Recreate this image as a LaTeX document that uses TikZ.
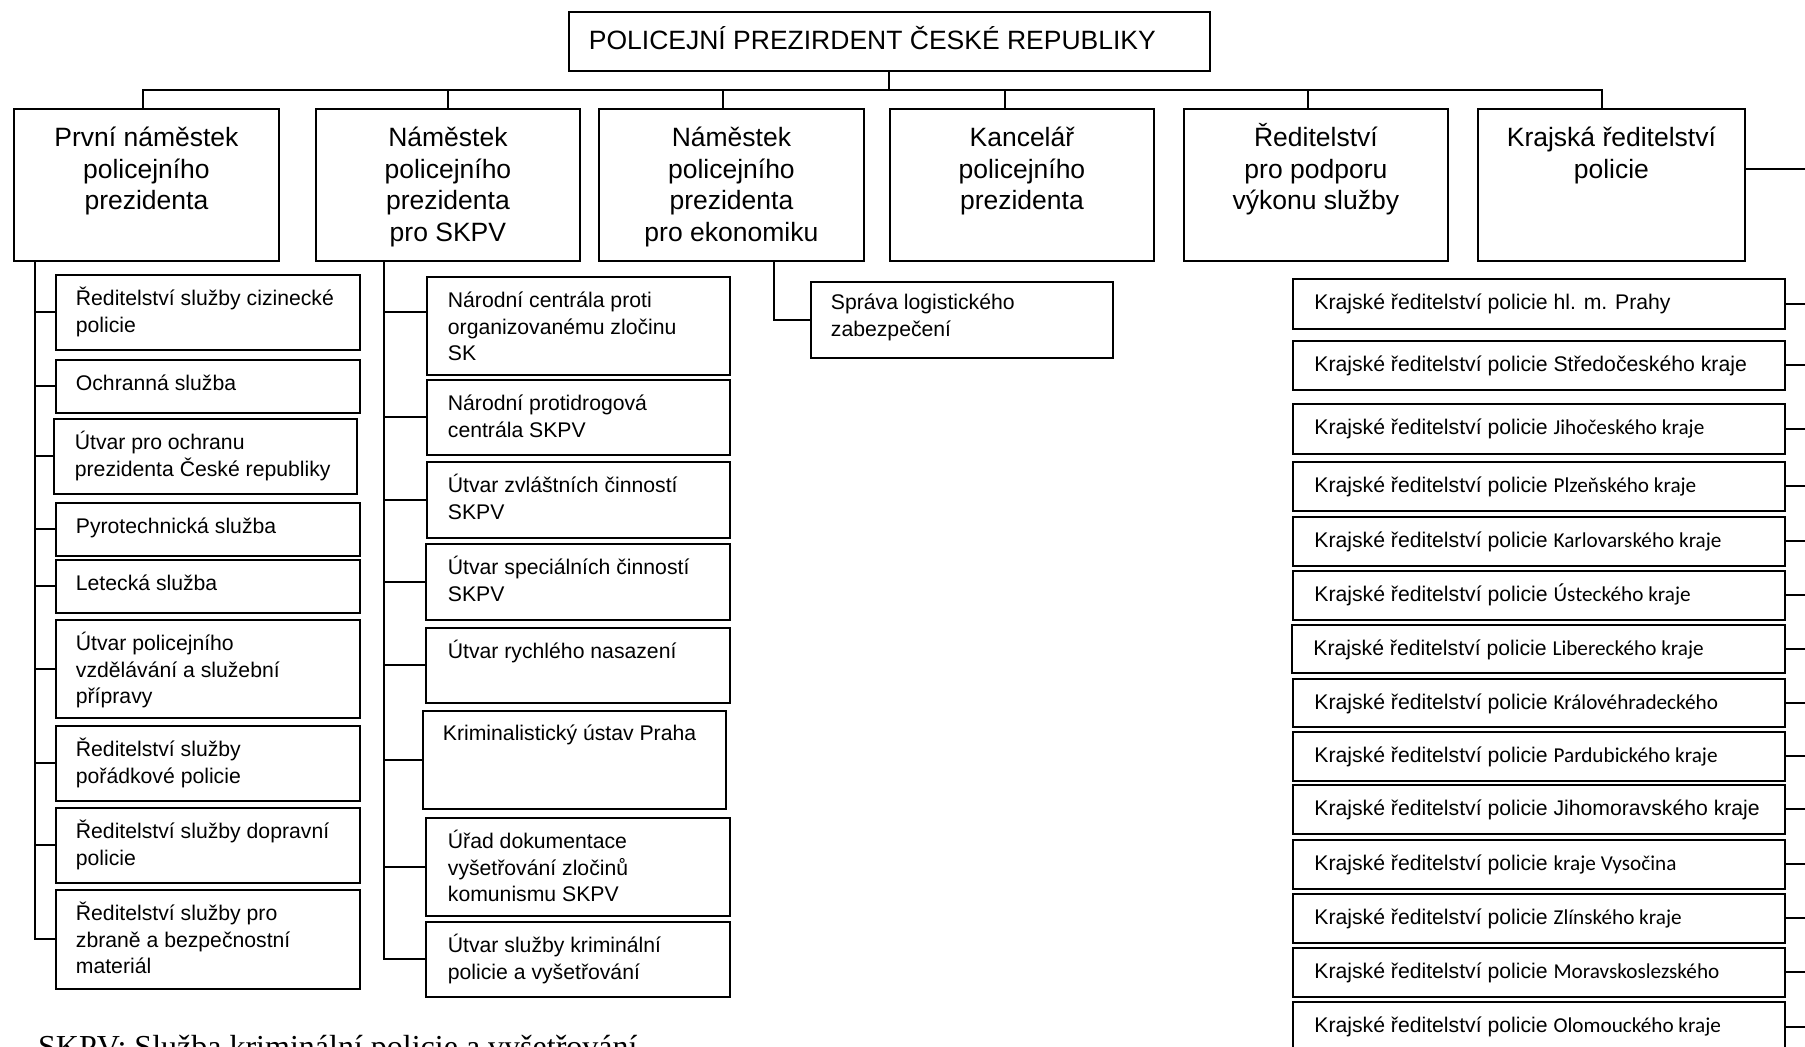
\documentclass[tikz,border=0pt]{standalone}
\usepackage{fontspec}
\setmainfont{Liberation Sans}
\newfontfamily\calibrifont{Carlito}
\newfontfamily\timesfont{Liberation Serif}
\newcommand{\cbox}[4]{\parbox[c][#2pt][t]{#1pt}{\centering\rule{0pt}{#3pt}#4}}
\newcommand{\lbox}[5]{\parbox[c][#2pt][t]{#1pt}{\raggedright\leftskip=#4pt\rule{0pt}{#3pt}#5}}
\newcommand{\kr}{Krajské ředitelství policie}
\newcommand{\cf}[1]{{\calibrifont #1}}
\begin{document}
\begin{tikzpicture}[x=1pt,y=-1pt,
  bx/.style={draw, line width=1.8pt, inner sep=0pt, anchor=north west},
  lvlone/.style={bx, font=\fontsize{26.5}{31.5}\selectfont},
  unitbox/.style={bx, font=\fontsize{21.2}{26.5}\selectfont},
  conn/.style={line width=2pt},
]
\useasboundingbox[fill=white] (0,0) rectangle (1805,1047);
\clip (0,0) rectangle (1805,1047);

% top level
\node[lvlone] (top) at (568,11) {\lbox{641}{59}{37.5}{20}{POLICEJNÍ PREZIRDENT ČESKÉ REPUBLIKY}};
\node[lvlone] (b1) at (13,108) {\cbox{265}{152}{38}{První náměstek\\policejního\\prezidenta}};
\node[lvlone] (b2) at (315,108) {\cbox{264}{152}{38}{Náměstek\\policejního\\prezidenta\\pro SKPV}};
\node[lvlone] (b3) at (598,108) {\cbox{265}{152}{38}{Náměstek\\policejního\\prezidenta\\pro ekonomiku}};
\node[lvlone] (b4) at (889,108) {\cbox{264}{152}{38}{Kancelář\\policejního\\prezidenta}};
\node[lvlone] (b5) at (1183,108) {\cbox{264}{152}{38}{Ředitelství\\pro podporu\\výkonu služby}};
\node[lvlone] (b6) at (1477,108) {\cbox{267}{152}{38}{Krajská ředitelství\\policie}};

% left column
\node[unitbox] (L1) at (55,274) {\lbox{304}{75}{31}{20}{Ředitelství služby cizinecké\\policie}};
\node[unitbox] (L2) at (55,359) {\lbox{304}{53}{31}{20}{Ochranná služba}};
\node[unitbox] (L3) at (53,418) {\lbox{303}{75}{31}{21}{Útvar pro ochranu\\prezidenta České republiky}};
\node[unitbox] (L4) at (55,502) {\lbox{304}{53}{31}{20}{Pyrotechnická služba}};
\node[unitbox] (L5) at (55,559) {\lbox{304}{53}{31}{20}{Letecká služba}};
\node[unitbox] (L6) at (55,619) {\lbox{304}{98}{31}{20}{Útvar policejního\\vzdělávání a služební\\přípravy}};
\node[unitbox] (L7) at (55,725) {\lbox{304}{75}{31}{20}{Ředitelství služby\\pořádkové policie}};
\node[unitbox] (L8) at (55,807) {\lbox{304}{75}{31}{20}{Ředitelství služby dopravní\\policie}};
\node[unitbox] (L9) at (55,889) {\lbox{304}{99}{31}{20}{Ředitelství služby pro\\zbraně a bezpečnostní\\materiál}};

% middle column
\node[unitbox] (M1) at (426,276) {\lbox{303}{98}{31}{21}{Národní centrála proti\\organizovanému zločinu\\SK}};
\node[unitbox] (M2) at (426,379) {\lbox{303}{75}{31}{21}{Národní protidrogová\\centrála SKPV}};
\node[unitbox] (M3) at (426,461) {\lbox{303}{76}{31}{21}{Útvar zvláštních činností\\SKPV}};
\node[unitbox] (M4) at (425,543) {\lbox{304}{76}{31}{22}{Útvar speciálních činností\\SKPV}};
\node[unitbox] (M5) at (425,627) {\lbox{304}{75}{31}{22}{Útvar rychlého nasazení}};
\node[unitbox] (M6) at (422,710) {\lbox{303}{98}{30}{20}{Kriminalistický ústav Praha}};
\node[unitbox] (M7) at (425,817) {\lbox{304}{98}{31}{22}{Úřad dokumentace\\vyšetřování zločinů\\komunismu SKPV}};
\node[unitbox] (M8) at (425,921) {\lbox{304}{75}{31}{22}{Útvar služby kriminální\\policie a vyšetřování}};

% economy
\node[unitbox] (S) at (810,281) {\lbox{302}{76}{28}{20}{Správa logistického\\zabezpečení}};

% regions
\node[unitbox] (R1) at (1292,278) {\lbox{492}{50}{31}{21.5}{\kr{} hl. m. Prahy}};
\node[unitbox] (R2) at (1292,340) {\lbox{492}{49}{31}{21.5}{\kr{} Středočeského kraje}};
\node[unitbox] (R3) at (1292,403) {\lbox{492}{50}{31}{21.5}{\kr{} \cf{Jihočeského kraje}}};
\node[unitbox] (R4) at (1292,461) {\lbox{492}{49}{31}{21.5}{\kr{} \cf{Plzeňského kraje}}};
\node[unitbox] (R5) at (1292,516) {\lbox{492}{49}{31}{21.5}{\kr{} \cf{Karlovarského kraje}}};
\node[unitbox] (R6) at (1292,570) {\lbox{492}{49}{31}{21.5}{\kr{} \cf{Ústeckého kraje}}};
\node[unitbox] (R7) at (1291,624) {\lbox{493}{48}{31}{21.5}{\kr{} \cf{Libereckého kraje}}};
\node[unitbox] (R8) at (1292,678) {\lbox{492}{48}{31}{21.5}{\kr{} \cf{Královéhradeckého}}};
\node[unitbox] (R9) at (1292,731) {\lbox{492}{49}{31}{21.5}{\kr{} \cf{Pardubického kraje}}};
\node[unitbox] (R10) at (1292,784) {\lbox{492}{49}{31}{21.5}{\kr{} Jihomoravského kraje}};
\node[unitbox] (R11) at (1292,839) {\lbox{492}{49}{31}{21.5}{\kr{} \cf{kraje Vysočina}}};
\node[unitbox] (R12) at (1292,893) {\lbox{492}{49}{31}{21.5}{\kr{} \cf{Zlínského kraje}}};
\node[unitbox] (R13) at (1292,947) {\lbox{492}{49}{31}{21.5}{\kr{} \cf{Moravskoslezského}}};
\node[unitbox] (R14) at (1292,1001) {\lbox{492}{50}{31}{21.5}{\kr{} \cf{Olomouckého kraje}}};

% footnote
\node[anchor=base west, inner sep=0pt, font=\timesfont\fontsize{32}{36}\selectfont] (foot) at (38,1057) {SKPV: Služba kriminální policie a vyšetřování};

% connectors: top level
\coordinate (busy) at (0,90);
\draw[conn] (top.south) -- (top.south |- busy);
\draw[conn] ([xshift=-3]b1.north) -- ([xshift=-3]b1.north |- busy) -- ([xshift=-9]b6.north |- busy) -- ([xshift=-9]b6.north);
\draw[conn] (b2.north) -- (b2.north |- busy);
\draw[conn] ([xshift=-8]b3.north) -- ([xshift=-8]b3.north |- busy);
\draw[conn] ([xshift=-17]b4.north) -- ([xshift=-17]b4.north |- busy);
\draw[conn] ([xshift=-8]b5.north) -- ([xshift=-8]b5.north |- busy);

% left trunk
\coordinate (ltr) at (35,0);
\draw[conn] (b1.south -| ltr) |- (L9.west);
\foreach \n in {L1,L2,L3,L4,L5,L6,L7,L8}
  \draw[conn] (\n.west) -- (\n.west -| ltr);

% middle trunk
\coordinate (mtr) at (384,0);
\draw[conn] (b2.south -| mtr) |- (M8.west);
\draw[conn] ([yshift=14]M1.west) -- ([yshift=14]M1.west -| mtr);
\foreach \n in {M2,M3,M4,M5,M6,M7}
  \draw[conn] (\n.west) -- (\n.west -| mtr);

% economy
\coordinate (str) at (773.5,0);
\draw[conn] (b3.south -| str) |- (S.west);

% regions to right edge
\coordinate (redge) at (1808,0);
\draw[conn] ([yshift=16]b6.east) -- ([yshift=16]b6.east -| redge);
\foreach \n in {R1,R2,R3,R4,R5,R6,R7,R8,R9,R10,R11,R12,R13,R14}
  \draw[conn] (\n.east) -- (\n.east -| redge);
\end{tikzpicture}
\end{document}
